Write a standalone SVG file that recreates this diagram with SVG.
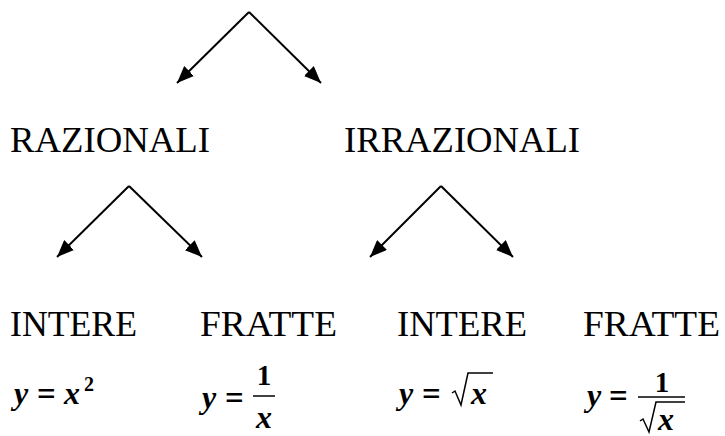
<svg xmlns="http://www.w3.org/2000/svg" width="725" height="436" viewBox="0 0 725 436" font-family="Liberation Serif, Times New Roman, serif">
<defs>
<marker id="ah" markerUnits="userSpaceOnUse" markerWidth="18" markerHeight="14" refX="17" refY="7" orient="auto">
<path d="M0,0 L17,7 L0,14 Z" fill="#000"/>
</marker>
<style>
text{fill:#000}
.lbl{font-size:36px}
.m{font-size:32px;font-weight:bold;font-style:italic}
.n{font-size:29px;font-weight:bold}
.eq{font-size:33px;font-weight:bold}
.sup{font-size:20px;font-weight:bold}
.c{stroke:#000;stroke-width:2;fill:none;marker-end:url(#ah)}
.bar{stroke:#000;stroke-width:1.5;fill:none}
</style>
</defs>
<rect width="725" height="436" fill="#fff"/>
<g id="connectors">
<line class="c" x1="249" y1="12" x2="177" y2="83"/>
<line class="c" x1="249" y1="12" x2="321" y2="83"/>
<line class="c" x1="129" y1="186" x2="57" y2="257"/>
<line class="c" x1="129" y1="186" x2="202" y2="257"/>
<line class="c" x1="441" y1="186" x2="370" y2="257"/>
<line class="c" x1="441" y1="186" x2="513" y2="257"/>
</g>
<g id="razionali"><text class="lbl" x="10" y="152" textLength="200" lengthAdjust="spacingAndGlyphs">RAZIONALI</text></g>
<g id="irrazionali"><text class="lbl" x="344" y="152" textLength="236" lengthAdjust="spacingAndGlyphs">IRRAZIONALI</text></g>
<g id="intere1"><text class="lbl" x="10" y="336" textLength="127" lengthAdjust="spacingAndGlyphs">INTERE</text>
<text class="m" x="14" y="404">y</text><text class="eq" x="37" y="405">=</text><text class="m" x="64" y="404">x</text><text class="sup" x="84" y="391">2</text></g>
<g id="fratte1"><text class="lbl" x="200" y="336" textLength="137" lengthAdjust="spacingAndGlyphs">FRATTE</text>
<text class="m" x="202" y="408">y</text><text class="eq" x="225" y="409">=</text>
<text class="n" x="264" y="385" text-anchor="middle">1</text>
<line class="bar" x1="253" y1="396" x2="275" y2="396"/>
<text class="m" x="264" y="428" text-anchor="middle">x</text></g>
<g id="intere2"><text class="lbl" x="397" y="336" textLength="130" lengthAdjust="spacingAndGlyphs">INTERE</text>
<text class="m" x="399" y="404">y</text><text class="eq" x="422" y="405">=</text>
<polyline class="bar" points="452,393 455,391 461,405 468,373 493,373"/>
<text class="m" x="471" y="404">x</text></g>
<g id="fratte2"><text class="lbl" x="583" y="336" textLength="137" lengthAdjust="spacingAndGlyphs">FRATTE</text>
<text class="m" x="587" y="406">y</text><text class="eq" x="609" y="407">=</text>
<text class="n" x="662" y="392" text-anchor="middle">1</text>
<line class="bar" x1="638" y1="397" x2="685" y2="397"/>
<polyline class="bar" points="640,421 643,419 649,432 656,402 685,402"/>
<text class="m" x="658" y="430">x</text></g>
</svg>
